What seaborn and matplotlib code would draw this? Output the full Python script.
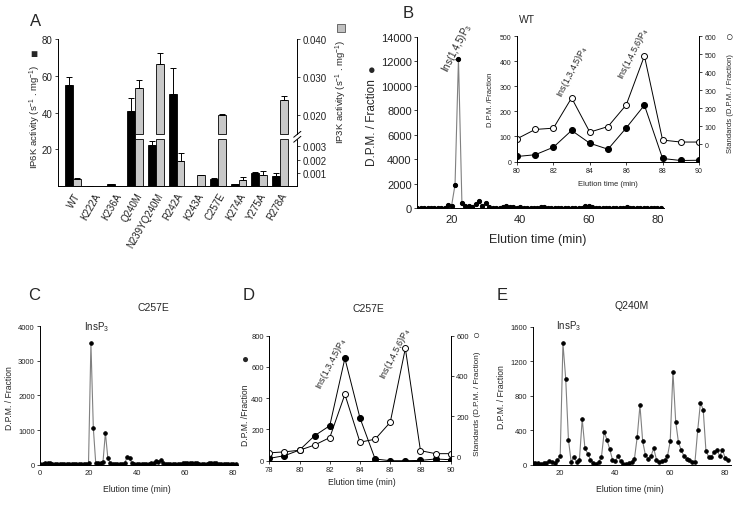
import numpy as np
import matplotlib
matplotlib.use('Agg')
import matplotlib.pyplot as plt
from matplotlib.lines import Line2D
import seaborn as sns

# ---- panel A : kinase activities of the mutants
mutants = ['WT', 'K222A', 'K236A', 'Q240M', 'N239YQ240M', 'R242A',
           'K243A', 'C257E', 'K274A', 'Y275A', 'R278A']
ip6k = [55, 0, 1.5, 41, 22.5, 50, 0, 4, 1, 7.2, 5.5]
ip6k_err = [4.5, 0, 0, 7, 2, 14, 0, 0.3, 0, 0.4, 1.5]
ip3k = [0.00055, 0, 0, 0.0271, 0.0333, 0.00192, 0.00087, 0.0200, 0.0005, 0.00087, 0.0240]
ip3k_err = [0.00005, 0, 0, 0.0021, 0.0029, 0.00056, 0, 0.0003, 0.00022, 0.00025, 0.0010]

# ---- panel B : WT elution profile + inset
b_time = list(range(10, 82))
b_dpm = [30, 30, 30, 30, 30, 30, 30, 30, 30, 270,
         200, 1900, 12200, 450, 130, 130, 100, 350, 550, 130,
         450, 50, 30, 30, 40, 60, 170, 80, 50, 40,
         60, 30, 30, 30, 30, 40, 80, 60, 30, 30,
         30, 30, 30, 30, 30, 30, 30, 30, 40, 160,
         170, 60, 30, 30, 30, 30, 30, 30, 30, 30,
         40, 60, 40, 30, 30, 30, 30, 30, 30, 30,
         30, 30]
inset_time = [80, 81, 82, 83, 84, 85, 86, 87, 88, 89, 90]
inset_dpm = [20, 27, 57, 124, 73, 49, 134, 225, 12, 4, 5]
inset_std = [31, 83, 90, 258, 68, 99, 219, 491, 24, 13, 13]

# ---- panel C : C257E elution profile
c_time = list(range(0, 82))
c_dpm = [30, 30, 35, 60, 40, 30, 30, 30, 30, 30,
         30, 30, 30, 30, 30, 30, 30, 30, 30, 30,
         40, 3500, 1050, 40, 40, 50, 80, 920, 200, 40,
         30, 30, 30, 30, 30, 40, 220, 180, 50, 30,
         30, 30, 30, 30, 30, 30, 40, 40, 100, 80,
         130, 50, 30, 30, 30, 30, 30, 30, 30, 40,
         40, 40, 40, 50, 60, 40, 30, 30, 30, 30,
         40, 50, 50, 40, 30, 30, 30, 30, 30, 30,
         30, 30]

# ---- panel D : C257E InsP4 region
d_time = [78, 79, 80, 81, 82, 83, 84, 85, 86, 87, 88, 89, 90]
d_dpm = [15, 32, 68, 160, 224, 655, 273, 11, 0, 0, 2, 11, 6]
d_std = [17, 22, 30, 56, 93, 308, 70, 85, 169, 537, 28, 13, 13]

# ---- panel E : Q240M elution profile
e_time = list(range(10, 82))
e_dpm = [20, 25, 20, 10, 15, 20, 40, 30, 20, 50,
         100, 1410, 1000, 290, 30, 90, 30, 60, 530, 190,
         130, 60, 20, 10, 30, 90, 380, 290, 180, 60,
         40, 100, 40, 10, 10, 20, 30, 70, 320, 690,
         270, 110, 70, 100, 190, 60, 30, 40, 50, 100,
         270, 1080, 500, 260, 170, 100, 70, 50, 30, 30,
         400, 720, 640, 160, 90, 90, 150, 170, 100, 170,
         80, 50]

sns.set_style('ticks')
plt.rcParams['font.family'] = ['Liberation Sans', 'DejaVu Sans']
plt.rcParams['mathtext.fontset'] = 'custom'
plt.rcParams['mathtext.rm'] = 'Liberation Sans'
plt.rcParams['mathtext.it'] = 'Liberation Sans:italic'
plt.rcParams['axes.linewidth'] = 0.7
plt.rcParams['axes.edgecolor'] = 'black'
plt.rcParams['xtick.color'] = '#222222'
plt.rcParams['ytick.color'] = '#222222'

W, H = 737, 506


def box(l, t, r, b):
    return [l / W, 1 - b / H, (r - l) / W, (b - t) / H]


def ftext(x, y, s, **kw):
    kw.setdefault('ha', 'center')
    kw.setdefault('va', 'center')
    fig.text(x / W, 1 - y / H, s, **kw)


def style_ticks(ax, size):
    ax.tick_params(axis='both', labelsize=size, length=2.5, width=0.6, pad=1.5)


fig = plt.figure(figsize=(7.37, 5.06), dpi=100)

# ================= A =================
# broken right axis: 0-0.003 stretched, 0.015-0.040 linear, gap in between
BRK_LO, BRK_HI = 0.00355, 0.0150
xp = [-1, 0, BRK_LO, BRK_HI, 0.04, 1]
fp = [-7230, 0, 25.7, 28.4, 80, 80 + 0.96 * 2065]


def fwd(v):
    return np.interp(v, xp, fp)


def inv(u):
    return np.interp(u, fp, xp)


axA = fig.add_axes(box(58.3, 40, 297.3, 187.3))
n = len(mutants)
xi = np.arange(n)
w = 0.38
axA.bar(xi - w / 2, ip6k, width=w, color='black', edgecolor='black', lw=0.6)
axA.errorbar(xi - w / 2, ip6k, yerr=[np.zeros(n), ip6k_err], fmt='none',
             ecolor='black', elinewidth=0.7, capsize=2.5, capthick=0.7)
axA.set_xlim(-0.725, 10.84)
axA.set_ylim(0, 80)
axA.set_yticks([20, 40, 60, 80])
axA.set_xticks(xi)
axA.set_xticklabels(mutants, rotation=60, ha='right', rotation_mode='anchor')
style_ticks(axA, 7)
axA.tick_params(axis='x', length=0, pad=3)
for s in ['top', 'right']:
    axA.spines[s].set_visible(False)

ax2 = axA.twinx()
ax2.set_yscale('function', functions=(fwd, inv))
ax2.set_ylim(0, 0.04)
ip3k_a = np.array(ip3k)
has = ip3k_a > 0
lower = np.minimum(ip3k_a, BRK_LO)
ax2.bar(xi[has] + w / 2, lower[has], width=w, color='#c8c8c8', edgecolor='black', lw=0.6)
big = ip3k_a > BRK_HI
ax2.bar(xi[big] + w / 2, ip3k_a[big] - BRK_HI, bottom=BRK_HI, width=w,
        color='#c8c8c8', edgecolor='black', lw=0.6)
ax2.errorbar(xi[has] + w / 2, ip3k_a[has],
             yerr=[np.zeros(has.sum()), np.array(ip3k_err)[has]], fmt='none',
             ecolor='black', elinewidth=0.7, capsize=2.5, capthick=0.7)
ax2.set_yticks([0.001, 0.002, 0.003, 0.020, 0.030, 0.040])
ax2.set_yticklabels(['0.001', '0.002', '0.003', '0.020', '0.030', '0.040'])
ax2.minorticks_off()
style_ticks(ax2, 7)
for s in ['top', 'left', 'bottom']:
    ax2.spines[s].set_visible(False)
ax2.spines['right'].set_bounds(BRK_HI, 0.04)
ax2.plot([1, 1], [0, 25.7 / 80], transform=ax2.transAxes, color='black',
         lw=0.7, clip_on=False)
for yb in [25.7 / 80, 28.4 / 80]:
    ax2.plot([0.985, 1.015], [yb - 0.022, yb + 0.018], transform=ax2.transAxes,
             color='black', lw=0.7, clip_on=False)

ftext(36, 22, 'A', fontsize=12)
ftext(35, 117, 'IP6K activity (s$^{-1}$ . mg$^{-1}$)', rotation=90, fontsize=6.8)
ftext(34, 55, '\u25a0', fontsize=8.5)
ftext(341, 92, 'IP3K activity (s$^{-1}$ . mg$^{-1}$)', rotation=90, fontsize=6.8)
fig.add_artist(Line2D([341 / W], [1 - 29 / H], marker='s', ms=5.5, mfc='#c0c0c0',
                      mec='#555555', mew=0.6, transform=fig.transFigure))

# ================= B =================
axB = fig.add_axes(box(417.3, 38, 664.3, 209))
sns.lineplot(x=b_time, y=b_dpm, ax=axB, color='#808080', lw=0.8, marker='o',
             markersize=3, markerfacecolor='black', markeredgecolor='black')
axB.set_xlim(10, 82)
axB.set_ylim(0, 14000)
axB.set_yticks(range(0, 14001, 2000))
axB.set_xticks([20, 40, 60, 80])
style_ticks(axB, 8)
axB.tick_params(axis='x', length=0, pad=4)
for s in ['top', 'right']:
    axB.spines[s].set_visible(False)
axB.text(21.6, 13200, 'Ins(1,4,5)P$_3$', rotation=63, ha='center', va='center',
         fontsize=7)
ftext(408, 13, 'B', fontsize=12)
ftext(538, 240, 'Elution time (min)', fontsize=9)
ftext(372, 123, 'D.P.M. / Fraction', rotation=90, fontsize=8.5)
ftext(372, 71, '\u25cf', fontsize=9)
ftext(527, 20, 'WT', fontsize=7.5)

axI = fig.add_axes(box(517, 37.3, 699, 162.5))
sns.lineplot(x=inset_time, y=inset_dpm, ax=axI, color='black', lw=0.7,
             marker='o', markersize=4.3, markerfacecolor='black',
             markeredgecolor='black')
axI.set_xlim(80, 90)
axI.set_ylim(0, 500)
axI.set_xticks(range(80, 91, 2))
axI.set_yticks(range(0, 501, 100))
style_ticks(axI, 5)
axI.spines['top'].set_visible(False)
axI2 = axI.twinx()
sns.lineplot(x=inset_time, y=inset_std, ax=axI2, color='black', lw=0.7,
             marker='o', markersize=4.3, markerfacecolor='white',
             markeredgecolor='black', markeredgewidth=0.7)
axI2.set_ylim(-95, 600)
axI2.set_yticks(range(0, 601, 100))
axI2.set_ylabel('')
style_ticks(axI2, 5)
axI2.spines['top'].set_visible(False)
axI.text(83.05, 362, 'Ins(1,3,4,5)P$_4$', rotation=63, ha='center', va='center',
         fontsize=6.5)
axI.text(86.4, 434, 'Ins(1,4,5,6)P$_4$', rotation=63, ha='center', va='center',
         fontsize=6.5)
ftext(607.7, 185, 'Elution time (min)', fontsize=5.5)
ftext(490, 100, 'D.P.M. /Fraction', rotation=90, fontsize=5.5)
ftext(730, 104, 'Standards (D.P.M. / Fraction)', rotation=90, fontsize=5.5)
ftext(730, 38, '\u25cb', fontsize=9)

# ================= C =================
axC = fig.add_axes(box(40.3, 327, 238, 465.7))
sns.lineplot(x=c_time, y=c_dpm, ax=axC, color='#808080', lw=0.8, marker='o',
             markersize=2.5, markerfacecolor='black', markeredgecolor='black')
axC.set_xlim(0, 82)
axC.set_ylim(0, 4000)
axC.set_yticks(range(0, 4001, 1000))
axC.set_xticks(range(0, 81, 20))
style_ticks(axC, 5.5)
axC.tick_params(axis='x', length=0, pad=3)
for s in ['top', 'right']:
    axC.spines[s].set_visible(False)
axC.text(23.4, 4009, 'InsP$_3$', ha='center', va='center', fontsize=7)
ftext(34, 296, 'C', fontsize=12)
ftext(153, 308, 'C257E', fontsize=7.5)
ftext(137, 490, 'Elution time (min)', fontsize=6.2)
ftext(9.5, 398, 'D.P.M. / Fraction', rotation=90, fontsize=6.2)

# ================= D =================
axD = fig.add_axes(box(269.3, 336.7, 450.7, 461.7))
sns.lineplot(x=d_time, y=d_dpm, ax=axD, color='black', lw=0.7, marker='o',
             markersize=4.3, markerfacecolor='black', markeredgecolor='black')
axD.set_xlim(78, 90)
axD.set_ylim(0, 800)
axD.set_xticks(range(78, 91, 2))
axD.set_yticks(range(0, 801, 200))
style_ticks(axD, 5.5)
axD.spines['top'].set_visible(False)
axD2 = axD.twinx()
sns.lineplot(x=d_time, y=d_std, ax=axD2, color='black', lw=0.7, marker='o',
             markersize=4.3, markerfacecolor='white', markeredgecolor='black',
             markeredgewidth=0.7)
axD2.set_ylim(-22, 600)
axD2.set_yticks(range(0, 601, 200))
axD2.set_ylabel('')
style_ticks(axD2, 5.5)
axD2.spines['top'].set_visible(False)
axD.text(82.07, 630, 'Ins(1,3,4,5)P$_4$', rotation=63, ha='center', va='center',
         fontsize=6.5)
axD.text(86.3, 694, 'Ins(1,4,5,6)P$_4$', rotation=63, ha='center', va='center',
         fontsize=6.5)
ftext(249, 296, 'D', fontsize=12)
ftext(368, 309, 'C257E', fontsize=7.5)
ftext(362, 483, 'Elution time (min)', fontsize=6.2)
ftext(246, 415, 'D.P.M. /Fraction', rotation=90, fontsize=6.2)
ftext(246, 360, '\u25cf', fontsize=8.5)
ftext(477, 404, 'Standards (D.P.M. / Fraction)', rotation=90, fontsize=5.9)
ftext(477, 336, '\u25cb', fontsize=8.5)

# ================= E =================
axE = fig.add_axes(box(532.7, 328, 730.7, 465.7))
sns.lineplot(x=e_time, y=e_dpm, ax=axE, color='#808080', lw=0.8, marker='o',
             markersize=2.5, markerfacecolor='black', markeredgecolor='black')
axE.set_xlim(10, 82)
axE.set_ylim(0, 1600)
axE.set_yticks(range(0, 1601, 400))
axE.set_xticks(range(20, 81, 20))
style_ticks(axE, 5.5)
axE.tick_params(axis='x', length=0, pad=3)
for s in ['top', 'right']:
    axE.spines[s].set_visible(False)
axE.text(22.9, 1619, 'InsP$_3$', ha='center', va='center', fontsize=7)
ftext(502, 296, 'E', fontsize=12)
ftext(632, 306, 'Q240M', fontsize=7.5)
ftext(630, 490, 'Elution time (min)', fontsize=6.2)
ftext(501.7, 397, 'D.P.M. / Fraction', rotation=90, fontsize=6.2)

fig.savefig('out.png', dpi=100)
